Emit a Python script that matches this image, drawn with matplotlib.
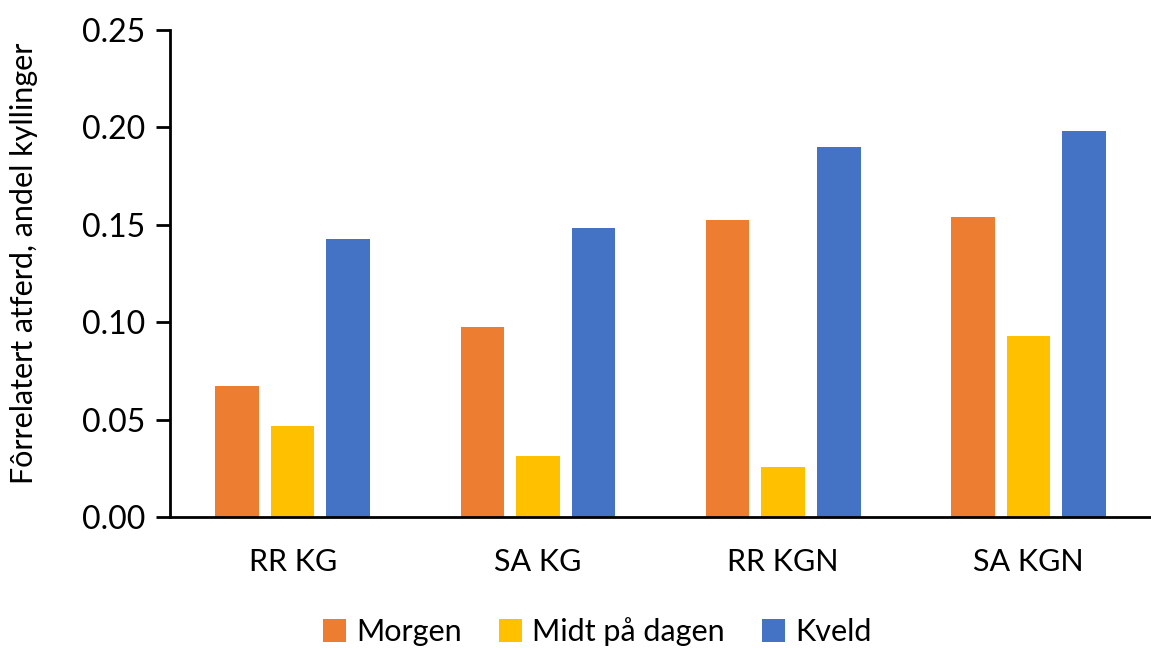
import numpy as np
import matplotlib.pyplot as plt

plt.rcParams['font.family'] = ['Lato', 'DejaVu Sans']

categories = ["RR KG", "SA KG", "RR KGN", "SA KGN"]
series = ["Morgen", "Midt på dagen", "Kveld"]
morgen = [0.067, 0.0975, 0.1525, 0.154]
midt = [0.0465, 0.0315, 0.0257, 0.093]
kveld = [0.1425, 0.1485, 0.190, 0.198]
colors = ["#ED7D31", "#FFC000", "#4472C4"]
yticks = [0.00, 0.05, 0.10, 0.15, 0.20, 0.25]

fig = plt.figure(figsize=(11.51, 6.48), dpi=100)
ax = fig.add_axes([0.1477, 0.2022, 0.8523, 0.7515])

x = np.arange(len(categories))
width = 0.178
step = 0.2265
for i, (name, vals) in enumerate(zip(series, [morgen, midt, kveld])):
    ax.bar(x + (i - 1) * step, vals, width, color=colors[i], label=name)

ax.set_xlim(-0.5, len(categories) - 0.5)
ax.set_ylim(0, 0.25)
ax.set_yticks(yticks)
ax.set_yticklabels(["%.2f" % t for t in yticks], fontsize=23)
ax.set_xticks(x)
ax.set_xticklabels(categories, fontsize=22)
ax.tick_params(axis='x', length=0, pad=22)
ax.tick_params(axis='y', length=10, width=2, pad=8)

for s in ["top", "right"]:
    ax.spines[s].set_visible(False)
ax.spines["left"].set_linewidth(2)
ax.spines["bottom"].set_linewidth(2)

ax.set_ylabel("Fôrrelatert atferd, andel kyllinger", fontsize=22)
ax.yaxis.set_label_coords(-0.1346, 0.52)

fig.legend(loc="center", bbox_to_anchor=(0.519, 0.025), ncol=3, frameon=False,
           fontsize=22, handlelength=0.75, handleheight=0.75, handletextpad=0.35,
           columnspacing=1.2)

fig.savefig("out.png", dpi=100)
